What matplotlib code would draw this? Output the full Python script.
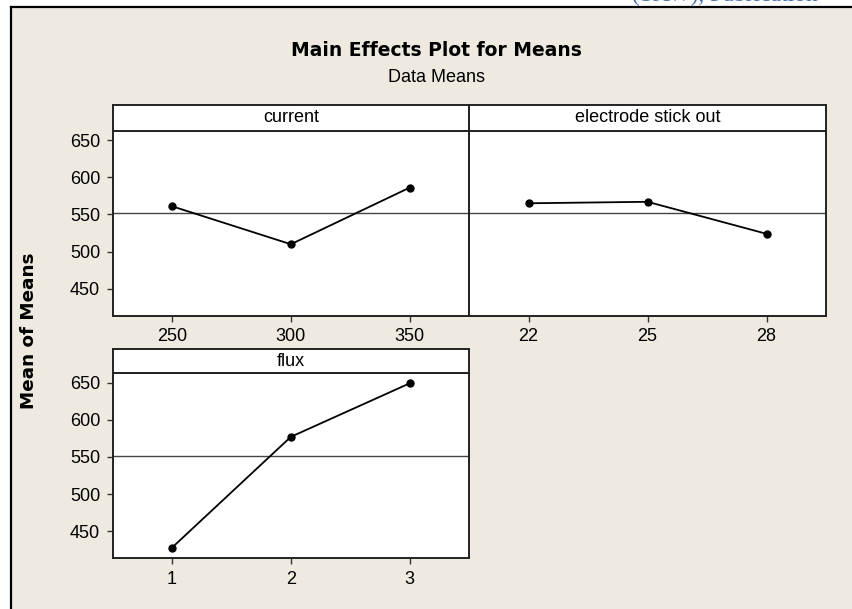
import matplotlib
matplotlib.use("Agg")
import matplotlib.pyplot as plt
from matplotlib.patches import Rectangle
import numpy as np

# level means
current_levels = ["250", "300", "350"]
current_means = [561, 510, 586]
stickout_levels = ["22", "25", "28"]
stickout_means = [565, 567, 524]
flux_levels = ["1", "2", "3"]
flux_means = [428, 577, 649]

y_ticks = [450, 500, 550, 600, 650]
grand_mean = np.mean(current_means + stickout_means + flux_means)

BEIGE = "#eeeae0"
REG = "Liberation Sans"
BOLD = "DejaVu Sans"

fig = plt.figure(figsize=(8.52, 6.09), dpi=100, facecolor="white")
W, H = 852, 609


def box(x0, y0, x1, y1):
    # pixel box (top-left origin) -> figure fraction rect
    return [x0 / W, 1 - y1 / H, (x1 - x0) / W, (y1 - y0) / H]


# beige panel background with black left/top border
fig.patches.append(Rectangle((11 / W, 0), 1, 1 - 7 / H, transform=fig.transFigure,
                             facecolor=BEIGE, edgecolor="none", zorder=-5))
fig.add_artist(plt.Line2D([11 / W, 11 / W], [0, 1 - 7 / H], transform=fig.transFigure,
                          color="black", lw=1.6, zorder=-4))
fig.add_artist(plt.Line2D([11 / W, 1], [1 - 6.5 / H, 1 - 6.5 / H], transform=fig.transFigure,
                          color="black", lw=1.6, zorder=-4))

# cut-off caption from the page above
fig.text(632 / W, 1 - 1 / H, "(SAW), Fabrication", color="#4a6fb5",
         family="Liberation Serif", fontsize=17, va="baseline", ha="left")

fig.text(436 / W, 1 - 51 / H, "Main Effects Plot for Means", family=BOLD,
         fontweight="bold", fontsize=13.5, ha="center", va="center")
fig.text(437 / W, 1 - 77 / H, "Data Means", family=REG, fontsize=13,
         ha="center", va="center")
fig.text(29 / W, 1 - 331 / H, "Mean of Means", family=BOLD, fontweight="bold",
         fontsize=13.2, rotation=90, ha="center", va="center")

panels = [
    ("current", current_levels, current_means, (112.7, 130.7, 469, 315.7), 105, True),
    ("electrode stick out", stickout_levels, stickout_means, (469, 130.7, 826, 315.7), 105, False),
    ("flux", flux_levels, flux_means, (112.7, 373.3, 469, 558), 349, True),
]

for name, levels, means, (x0, y0, x1, y1), strip_top, show_y in panels:
    ax = fig.add_axes(box(x0, y0, x1, y1))
    ax.set_facecolor("white")
    pos = np.arange(1, len(levels) + 1)
    ax.axhline(grand_mean, color="#454545", lw=1.0, zorder=1)
    ax.plot(pos, means, color="black", lw=1.3, marker="o", markersize=5, zorder=3)
    ax.set_xlim(0.5, 3.5)
    ax.set_ylim(414, 662.5)
    ax.set_xticks(pos)
    ax.set_xticklabels(levels, family=REG, fontsize=13)
    ax.set_yticks(y_ticks)
    if show_y:
        ax.set_yticklabels([str(v) for v in y_ticks], family=REG, fontsize=13)
    else:
        ax.tick_params(axis="y", left=False, labelleft=False)
    ax.tick_params(direction="out", length=4.5, width=1, pad=4.5, color="#333333")
    for sp in ax.spines.values():
        sp.set_linewidth(1.4)
        sp.set_color("#222222")

    sax = fig.add_axes(box(x0, strip_top, x1, y0))
    sax.set_facecolor("white")
    sax.set_xticks([])
    sax.set_yticks([])
    for sp in sax.spines.values():
        sp.set_linewidth(1.4)
        sp.set_color("#222222")
    sax.text(0.5, 0.5, name, family=REG, fontsize=13, ha="center", va="center",
             transform=sax.transAxes)

fig.savefig("out.png", dpi=100, facecolor="white")
